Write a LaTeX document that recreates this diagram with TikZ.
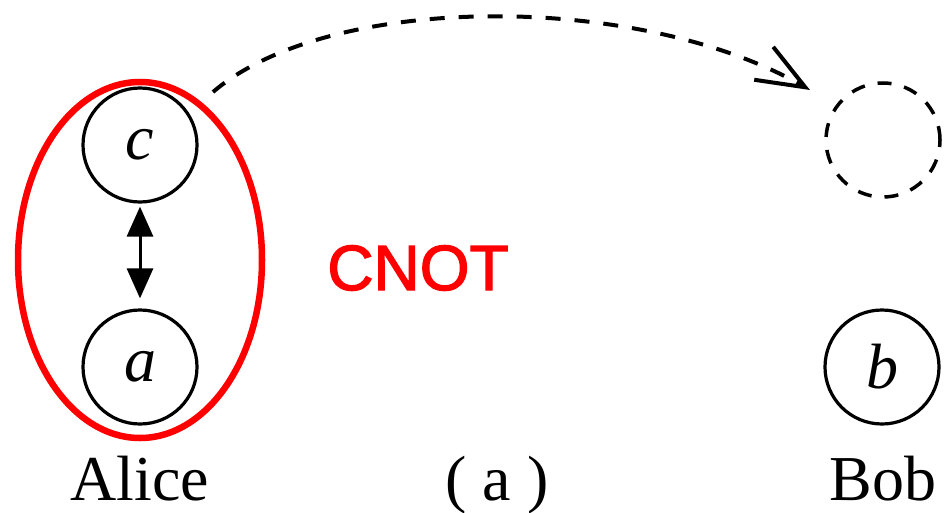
\documentclass[tikz,border=0pt]{standalone}
\usepackage{fontspec}
\setmainfont{Liberation Serif}
\newfontfamily\cnotfont[FakeBold=2]{Liberation Sans}
\usetikzlibrary{arrows.meta}
\begin{document}
\begin{tikzpicture}[x=1pt,y=-1pt,
  qubit/.style={circle,draw,line width=3.2pt,minimum size=114pt,inner sep=0pt,font=\fontsize{64}{66}\selectfont\itshape},
  ghost/.style={circle,draw,dash pattern=on 14pt off 13pt,line width=3.5pt,minimum size=114pt,inner sep=0pt},
  lbl/.style={anchor=base,font=\fontsize{64}{66}\selectfont}]
\useasboundingbox (0,0) rectangle (944,513);
\node[qubit] (c) at (140,145) {c};
\node[qubit] (a) at (140,367) {a};
\node[qubit] (b) at (882,367) {b};
\node[ghost] (g) at (883,140) {};
\draw[line width=3pt,{Triangle[length=30pt,width=26pt]}-{Triangle[length=30pt,width=26pt]},shorten <=3pt,shorten >=10pt] (c) -- (a);
\draw[red,line width=6.5pt] (140,260) ellipse [x radius=122, y radius=178];
\coordinate (s) at (213,92);
\coordinate (e) at (810,90);
\draw[line width=4pt,dash pattern=on 15pt off 14pt,-{Straight Barb[length=48pt,width=38pt,line width=4pt]}] (s) .. controls (330,-8) and (640,-8) .. (e);
\node[text=red,font=\cnotfont\fontsize{64}{64}\selectfont] (cnot) at (418,268) {CNOT};
\node[lbl] (alice) at (140,500) {Alice};
\node[lbl] (cap) at (497,500) {( a )};
\node[lbl] (bob) at (883,500) {Bob};
\end{tikzpicture}
\end{document}
